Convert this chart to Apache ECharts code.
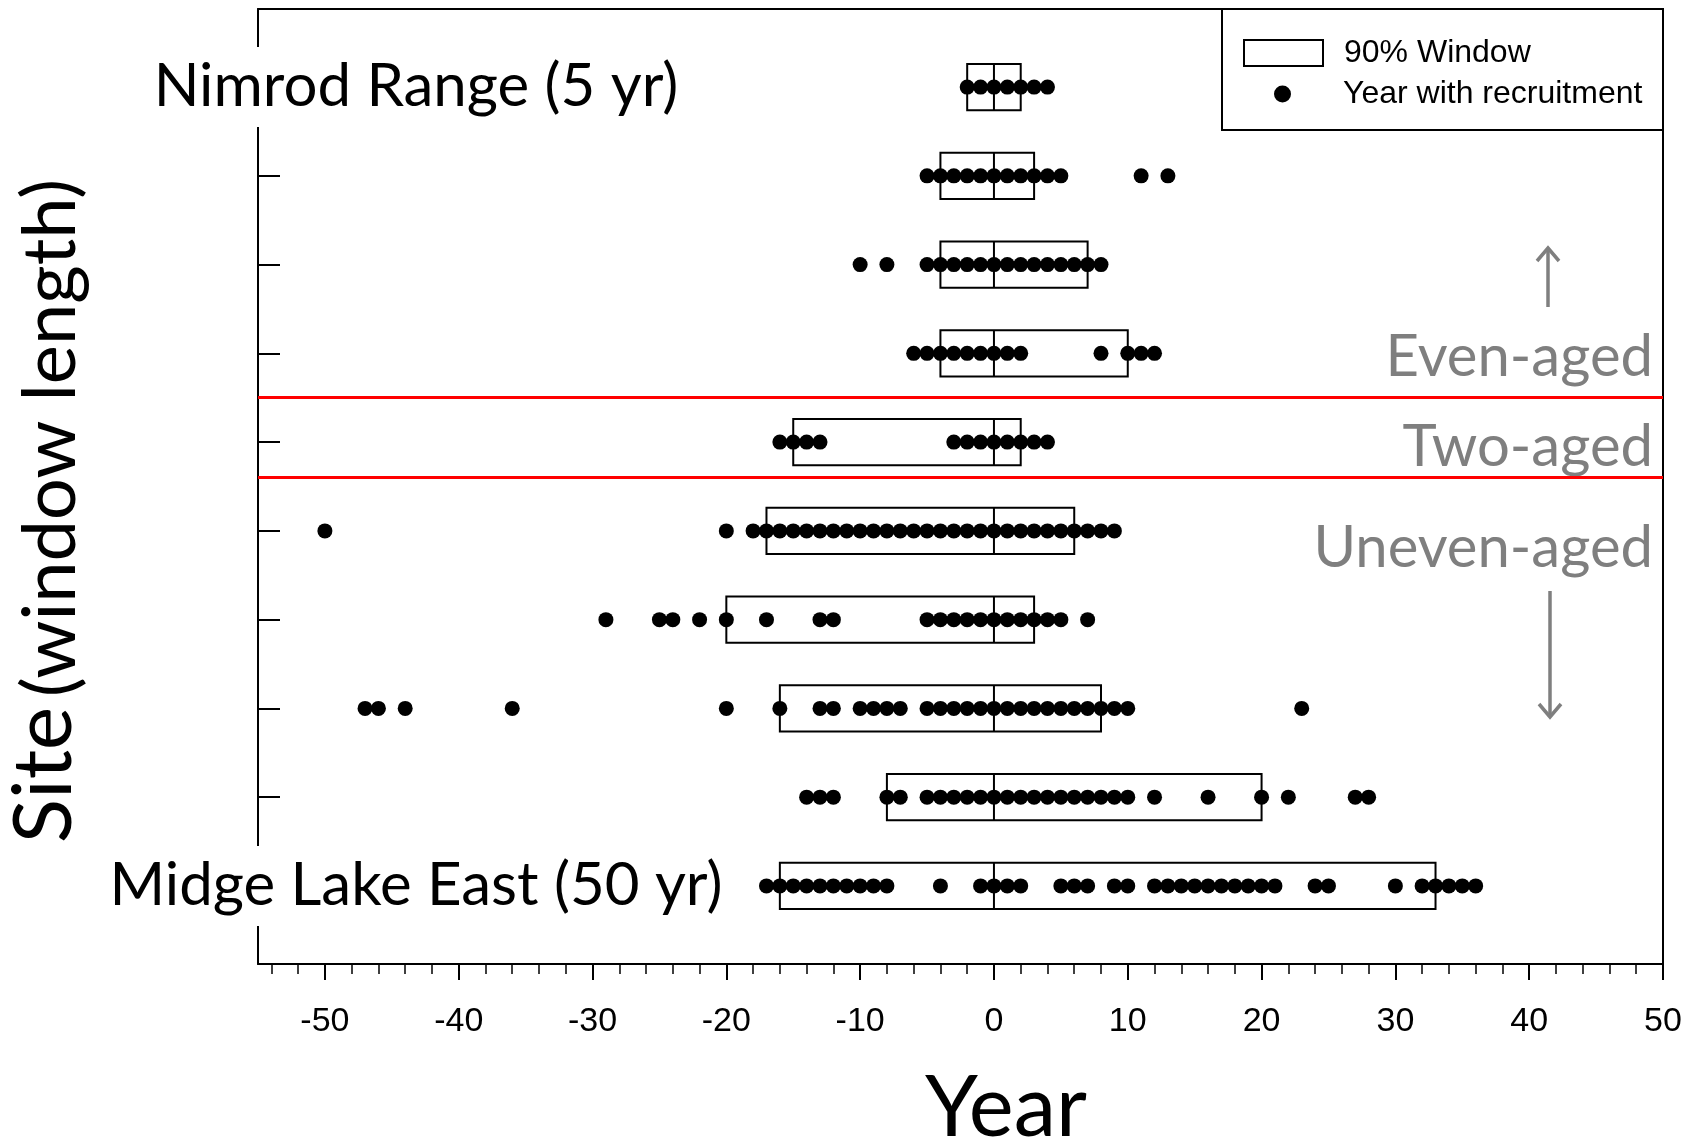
<!DOCTYPE html>
<html>
<head>
<meta charset="utf-8">
<script src="https://cdn.jsdelivr.net/npm/echarts@6/dist/echarts.min.js"></script>
<style>
  html, body { margin: 0; padding: 0; background: #fff; }
  #chart { width: 1700px; height: 1144px; }
</style>
</head>
<body>
<div id="chart"></div>
<script>
// Sites, top to bottom (only the end rows are named)
const siteLabels = ['Nimrod Range (5 yr)', '', '', '', '', '', '', '', '', 'Midge Lake East (50 yr)'];
const siteRows = [1, 2, 3, 4, 5, 6, 7, 8, 9, 10];

// 90% recruitment window per site (years relative to the window centre)
const windowStart = [-2, -4, -4, -4, -15, -17, -20, -16, -8, -16];
const windowEnd   = [2, 3, 7, 10, 2, 6, 3, 8, 20, 33];
const windowMid   = [0, 0, 0, 0, 0, 0, 0, 0, 0, 0];

// Years with recruitment, one list per site
const recruitRow1 = [-2, -1, 0, 1, 2, 3, 4];
const recruitRow2 = [-5, -4, -3, -2, -1, 0, 1, 2, 3, 4, 5, 11, 13];
const recruitRow3 = [-10, -8, -5, -4, -3, -2, -1, 0, 1, 2, 3, 4, 5, 6, 7, 8];
const recruitRow4 = [-6, -5, -4, -3, -2, -1, 0, 1, 2, 8, 10, 11, 12];
const recruitRow5 = [-16, -15, -14, -13, -3, -2, -1, 0, 1, 2, 3, 4];
const recruitRow6 = [-50, -20, -18, -17, -16, -15, -14, -13, -12, -11, -10, -9, -8, -7, -6, -5, -4, -3, -2, -1, 0, 1, 2, 3, 4, 5, 6, 7, 8, 9];
const recruitRow7 = [-29, -25, -24, -22, -20, -17, -13, -12, -5, -4, -3, -2, -1, 0, 1, 2, 3, 4, 5, 7];
const recruitRow8 = [-47, -46, -44, -36, -20, -16, -13, -12, -10, -9, -8, -7, -5, -4, -3, -2, -1, 0, 1, 2, 3, 4, 5, 6, 7, 8, 9, 10, 23];
const recruitRow9 = [-14, -13, -12, -8, -7, -5, -4, -3, -2, -1, 0, 1, 2, 3, 4, 5, 6, 7, 8, 9, 10, 12, 16, 20, 22, 27, 28];
const recruitRow10 = [-17, -16, -15, -14, -13, -12, -11, -10, -9, -8, -4, -1, 0, 1, 2, 5, 6, 7, 9, 10, 12, 13, 14, 15, 16, 17, 18, 19, 20, 21, 24, 25, 30, 32, 33, 34, 35, 36];
const recruitYears = [recruitRow1, recruitRow2, recruitRow3, recruitRow4, recruitRow5,
                      recruitRow6, recruitRow7, recruitRow8, recruitRow9, recruitRow10];

// Boundaries between the stand-structure groups (in row units)
const groupBreaks = [4.5, 5.4];

// Axis ticks
const xMajorTicks = [-50, -40, -30, -20, -10, 0, 10, 20, 30, 40, 50];
const xMinorTicks = [-54, -52, -48, -46, -44, -42, -38, -36, -34, -32, -28, -26, -24, -22, -18, -16, -14, -12,
                     -8, -6, -4, -2, 2, 4, 6, 8, 12, 14, 16, 18, 22, 24, 26, 28, 32, 34, 36, 38, 42, 44, 46, 48];
const yTickRows = [2, 3, 4, 5, 6, 7, 8, 9];
const yLabelRows = [1, 10];

// ---- build series data ----
const windowData = siteRows.map((r, i) => [r, windowStart[i], windowEnd[i], windowMid[i]]);
const dotData = [];
recruitYears.forEach((years, i) => years.forEach(y => dotData.push([y, siteRows[i]])));

const BOX_HEIGHT = 0.52;   // box height in row units
const GREY = '#7f7f7f';
const SANS = '"Liberation Sans", Arial, sans-serif';
const HUMAN = 'Lato, "Open Sans", sans-serif';

const chart = echarts.init(document.getElementById('chart'), null, { renderer: 'canvas' });

const option = {
  animation: false,
  backgroundColor: '#fff',
  grid: { left: 258, right: 37, top: 9, bottom: 180, containLabel: false },
  legend: [
    {
      left: 1243, top: 37, padding: 0,
      itemWidth: 79, itemHeight: 26,
      selectedMode: false,
      textStyle: { fontFamily: SANS, fontSize: 32, color: '#000', padding: [0, 0, 0, 16] },
      data: [{ name: '90% Window', icon: 'rect',
               itemStyle: { color: '#fff', borderColor: '#000', borderWidth: 2 } }]
    },
    {
      left: 1274, top: 78, padding: 0,
      itemWidth: 79, itemHeight: 17,
      selectedMode: false,
      textStyle: { fontFamily: SANS, fontSize: 32, color: '#000', padding: [0, 0, 0, 16] },
      data: [{ name: 'Year with recruitment', icon: 'circle', itemStyle: { color: '#000' } }]
    }
  ],
  xAxis: [
    {
      type: 'value', min: -55, max: 50, position: 'bottom',
      axisLine: { show: true, onZero: false, lineStyle: { color: '#000', width: 2 } },
      axisTick: { show: true, inside: false, length: 16, customValues: xMajorTicks,
                  lineStyle: { color: '#000', width: 2 } },
      axisLabel: { show: true, customValues: xMajorTicks, margin: 41,
                   fontFamily: SANS, fontSize: 34, color: '#000' },
      splitLine: { show: false }
    },
    {
      type: 'value', min: -55, max: 50, position: 'bottom',
      axisLine: { show: false },
      axisTick: { show: true, inside: false, length: 10, customValues: xMinorTicks,
                  lineStyle: { color: '#000', width: 1.5 } },
      axisLabel: { show: false },
      splitLine: { show: false }
    },
    {
      type: 'value', min: -55, max: 50, position: 'top',
      axisLine: { show: true, onZero: false, lineStyle: { color: '#000', width: 2 } },
      axisTick: { show: false }, axisLabel: { show: false }, splitLine: { show: false }
    }
  ],
  yAxis: [
    {
      type: 'value', inverse: true, min: 0.12, max: 10.88, position: 'left',
      axisLine: { show: true, onZero: false, lineStyle: { color: '#000', width: 2 } },
      axisTick: { show: true, inside: true, length: 22, customValues: yTickRows,
                  lineStyle: { color: '#000', width: 2 } },
      axisLabel: {
        show: true, customValues: yLabelRows, margin: -158, align: 'center',
        fontFamily: HUMAN, fontSize: 60, color: '#000',
        backgroundColor: '#fff', padding: [10, 8],
        formatter: v => siteLabels[Math.round(v) - 1] || ''
      },
      splitLine: { show: false }
    },
    {
      type: 'value', inverse: true, min: 0.12, max: 10.88, position: 'right',
      axisLine: { show: true, onZero: false, lineStyle: { color: '#000', width: 2 } },
      axisTick: { show: false }, axisLabel: { show: false }, splitLine: { show: false }
    }
  ],
  series: [
    {
      name: '90% Window',
      type: 'custom',
      xAxisIndex: 0, yAxisIndex: 0,
      itemStyle: { color: '#fff', borderColor: '#000', borderWidth: 2 },
      encode: { x: [1, 2, 3], y: 0 },
      data: windowData,
      z: 2,
      renderItem: (params, api) => {
        const row = api.value(0);
        const lo = api.coord([api.value(1), row]);
        const hi = api.coord([api.value(2), row]);
        const mid = api.coord([api.value(3), row]);
        const h = api.size([0, BOX_HEIGHT])[1];
        return {
          type: 'group',
          children: [
            { type: 'rect',
              shape: { x: lo[0], y: lo[1] - h / 2, width: hi[0] - lo[0], height: h },
              style: { fill: 'none', stroke: '#000', lineWidth: 2 } },
            { type: 'line',
              shape: { x1: mid[0], y1: mid[1] - h / 2, x2: mid[0], y2: mid[1] + h / 2 },
              style: { stroke: '#000', lineWidth: 2 } }
          ]
        };
      }
    },
    {
      name: 'Year with recruitment',
      type: 'scatter',
      xAxisIndex: 0, yAxisIndex: 0,
      symbol: 'circle', symbolSize: 15,
      itemStyle: { color: '#000', opacity: 1 },
      data: dotData,
      z: 3,
      markLine: {
        silent: true, symbol: 'none',
        label: { show: false },
        lineStyle: { color: '#ff0000', width: 3, type: 'solid' },
        data: groupBreaks.map(b => ({ yAxis: b }))
      }
    }
  ],
  graphic: [
    // legend frame
    { type: 'rect', shape: { x: 1222, y: 9, width: 441, height: 121 },
      style: { fill: 'none', stroke: '#000', lineWidth: 2 }, z: 5 },
    // axis titles
    { type: 'text', x: 1006, y: 1109,
      style: { text: 'Year', font: '85px ' + HUMAN, fill: '#000',
               align: 'center', verticalAlign: 'middle', textAlign: 'center', textVerticalAlign: 'middle' } },
    { type: 'text', x: 45, y: 775, rotation: Math.PI / 2,
      style: { text: 'Site', font: '82px ' + HUMAN, fill: '#000',
               align: 'center', verticalAlign: 'middle', textAlign: 'center', textVerticalAlign: 'middle' } },
    { type: 'text', x: 51, y: 438, rotation: Math.PI / 2,
      style: { text: '(window length)', font: '74px ' + HUMAN, fill: '#000',
               align: 'center', verticalAlign: 'middle', textAlign: 'center', textVerticalAlign: 'middle' } },
    // stand-structure group labels
    { type: 'text', x: 1653, y: 357,
      style: { text: 'Even-aged', font: '58px ' + HUMAN, fill: GREY,
               align: 'right', verticalAlign: 'middle', textAlign: 'right', textVerticalAlign: 'middle' } },
    { type: 'text', x: 1653, y: 447,
      style: { text: 'Two-aged', font: '58px ' + HUMAN, fill: GREY,
               align: 'right', verticalAlign: 'middle', textAlign: 'right', textVerticalAlign: 'middle' } },
    { type: 'text', x: 1653, y: 548,
      style: { text: 'Uneven-aged', font: '58px ' + HUMAN, fill: GREY,
               align: 'right', verticalAlign: 'middle', textAlign: 'right', textVerticalAlign: 'middle' } },
    // arrows
    { type: 'line', shape: { x1: 1548, y1: 307, x2: 1548, y2: 248 },
      style: { stroke: GREY, lineWidth: 3.5 } },
    { type: 'polyline', shape: { points: [[1537, 261], [1548, 248], [1559, 261]] },
      style: { stroke: GREY, lineWidth: 3.5, fill: 'none' } },
    { type: 'line', shape: { x1: 1550, y1: 591, x2: 1550, y2: 717 },
      style: { stroke: GREY, lineWidth: 3.5 } },
    { type: 'polyline', shape: { points: [[1539, 704], [1550, 717], [1561, 704]] },
      style: { stroke: GREY, lineWidth: 3.5, fill: 'none' } }
  ]
};

chart.setOption(option);
</script>
</body>
</html>
